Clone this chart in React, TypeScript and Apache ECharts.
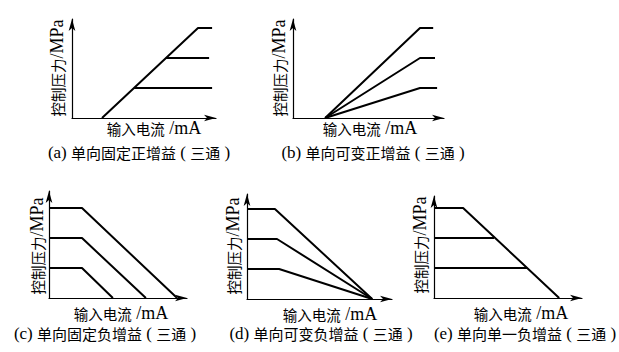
import React, { useEffect, useRef } from "react";
import * as echarts from "echarts";

// ---- data (units: pressure levels 1,2,3 ; current in same relative units) ----
const aTop = [[1.0, 0], [4.2, 3], [4.67, 3]];
const aMid = [[3.13, 2], [4.57, 2]];
const aLow = [[2.07, 1], [4.67, 1]];

const bTop = [[1.07, 0], [4.23, 3], [4.67, 3]];
const bMid = [[1.07, 0], [4.23, 2], [4.73, 2]];
const bLow = [[1.07, 0], [4.23, 1], [4.8, 1]];

const cTop = [[0, 3], [1.1, 3], [4.27, 0]];
const cMid = [[0, 2], [1.1, 2], [3.23, 0]];
const cLow = [[0, 1], [1.1, 1], [2.13, 0]];

const dTop = [[0, 3], [0.93, 3], [4.17, 0]];
const dMid = [[0, 2], [1.0, 2], [4.17, 0]];
const dLow = [[0, 1], [1.07, 1], [4.17, 0]];

const eTop = [[0, 3], [0.97, 3], [4.17, 0]];
const eMid = [[0, 2], [2.0, 2]];
const eLow = [[0, 1], [3.1, 1]];

const xMaxes = [4.8, 5.03, 4.6, 4.83, 4.93];
const yMaxes = [3.3, 3.3, 3.57, 3.5, 3.4];

const yLabel = "控制压力";
const yUnit = "/MPa";
const xLabel = "输入电流";
const xUnit = " /mA";
const captionTags = ["(a)", "(b)", "(c)", "(d)", "(e)"];
const captionNames = ["单向固定正增益", "单向可变正增益", "单向固定负增益", "单向可变负增益", "单向单一负增益"];
const captionTail = "三通";

const chartSeries = [
  [aTop, aMid, aLow],
  [bTop, bMid, bLow],
  [cTop, cMid, cLow],
  [dTop, dMid, dLow],
  [eTop, eMid, eLow],
];

// ---- layout ----
const grids = [
  { left: 72, top: 19, width: 144, height: 99 },
  { left: 293, top: 19, width: 151, height: 99 },
  { left: 49, top: 191, width: 138, height: 107 },
  { left: 247, top: 194, width: 145, height: 105 },
  { left: 434, top: 196, width: 148, height: 102 },
];
const yLabelPos = [[57, 68], [279, 68], [37, 246], [233, 246], [420, 245]];
const xLabelPos = [[154, 128], [370, 128], [121, 313], [330, 314], [521, 313]];
const capPos = [[139, 152], [373, 152], [105, 333], [321, 333], [525, 333]];

const FONT = "'Liberation Serif', 'Noto Sans CJK SC', serif";
const CJK = "'Noto Sans CJK SC', sans-serif";
const rich = {
  cn: { fontSize: 14.5, fontFamily: CJK, fill: "#000", color: "#000" },
  en: { fontSize: 18, fontFamily: FONT, fill: "#000", color: "#000" },
  cc: { fontSize: 15, fontFamily: CJK, fill: "#000", color: "#000" },
  ce: { fontSize: 17, fontFamily: FONT, fill: "#000", color: "#000" },
};

function textEl(text: string, x: number, y: number, rotation = 0) {
  return {
    type: "text",
    x,
    y,
    rotation,
    style: {
      text,
      rich,
      align: "center",
      verticalAlign: "middle",
      textAlign: "center",
      textVerticalAlign: "middle",
      fill: "#000",
    },
  };
}

export default function App() {
  const ref = useRef<HTMLDivElement>(null);
  useEffect(() => {
    document.body.style.margin = "0";
    const chart = echarts.init(ref.current!, undefined, { renderer: "svg" });
    const axisLine = {
      show: true,
      symbol: ["none", "arrow"],
      symbolSize: [5, 12],
      lineStyle: { color: "#000", width: 1.2 },
    };
    const xAxis = grids.map((_, i) => ({
      type: "value",
      gridIndex: i,
      min: 0,
      max: xMaxes[i],
      axisLine: { ...axisLine, onZero: false },
      axisTick: { show: false },
      axisLabel: { show: false },
      splitLine: { show: false },
    }));
    const yAxis = grids.map((_, i) => ({
      type: "value",
      gridIndex: i,
      min: 0,
      max: yMaxes[i],
      axisLine: { ...axisLine, onZero: false },
      axisTick: { show: false },
      axisLabel: { show: false },
      splitLine: { show: false },
    }));
    const series: any[] = [];
    chartSeries.forEach((group, i) => {
      group.forEach((d) => {
        series.push({
          type: "line",
          xAxisIndex: i,
          yAxisIndex: i,
          data: d,
          showSymbol: false,
          symbol: "none",
          clip: false,
          lineStyle: { color: "#000", width: 2 },
          silent: true,
        });
      });
    });
    const graphic: any[] = [];
    for (let i = 0; i < 5; i++) {
      graphic.push(textEl(`{cn|${yLabel}}{en|${yUnit}}`, yLabelPos[i][0], yLabelPos[i][1], Math.PI / 2));
      graphic.push(textEl(`{cn|${xLabel}}{en|${xUnit}}`, xLabelPos[i][0], xLabelPos[i][1]));
      graphic.push(
        textEl(
          `{ce|${captionTags[i]} }{cc|${captionNames[i]}}{ce| ( }{cc|${captionTail}}{ce| )}`,
          capPos[i][0],
          capPos[i][1]
        )
      );
    }
    chart.setOption({
      animation: false,
      backgroundColor: "#fff",
      grid: grids.map((g) => ({ ...g, containLabel: false })),
      xAxis,
      yAxis,
      series,
      graphic,
    });
    return () => chart.dispose();
  }, []);
  return <div ref={ref} style={{ width: 619, height: 352 }} />;
}
